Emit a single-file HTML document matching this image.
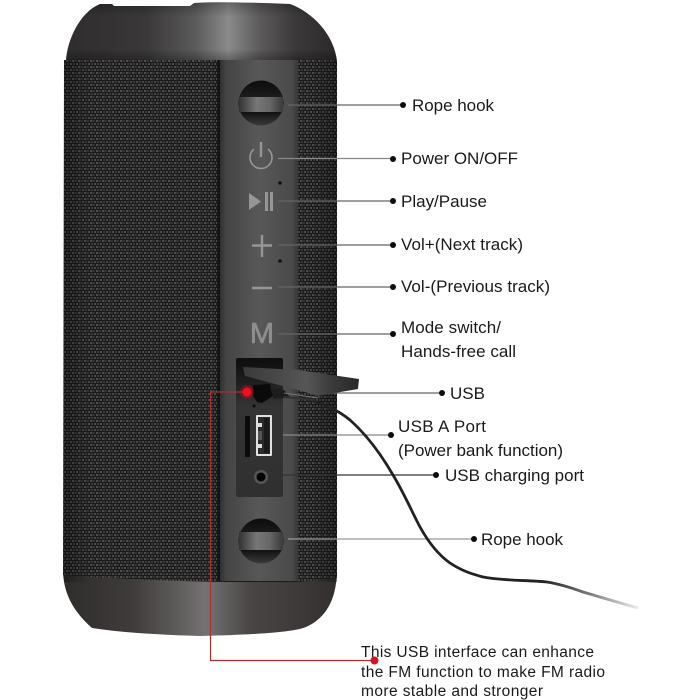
<!DOCTYPE html>
<html>
<head>
<meta charset="utf-8">
<style>
html,body{margin:0;padding:0;background:#fff;width:700px;height:700px;overflow:hidden}
svg{display:block}
text{font-family:"Liberation Sans",Arial,sans-serif;fill:#1a1a1a}
.l{font-size:17px}
.n{font-size:15.5px}
</style>
</head>
<body>
<svg width="700" height="700" viewBox="0 0 700 700" xmlns="http://www.w3.org/2000/svg">
<defs>
<pattern id="fab" width="6" height="6" patternUnits="userSpaceOnUse">
<rect width="6" height="6" fill="#1b1b1b"/>
<rect x="0" y="0" width="2.400" height="2" fill="#4c4c4c"/>
<rect x="3" y="0" width="2" height="2" fill="#343434"/>
<rect x="1" y="3" width="2" height="2" fill="#3a3a3a"/>
<rect x="4" y="3" width="2" height="2" fill="#484848"/>
</pattern>
<linearGradient id="fabShade" x1="0" x2="1" y1="0" y2="0">
<stop offset="0" stop-color="#000" stop-opacity=".3"/>
<stop offset=".1" stop-color="#000" stop-opacity="0"/>
<stop offset=".9" stop-color="#000" stop-opacity="0"/>
<stop offset="1" stop-color="#000" stop-opacity=".3"/>
</linearGradient>
<linearGradient id="capT" x1="0" x2="1" y1="0" y2="0">
<stop offset="0" stop-color="#2e2c2c"/>
<stop offset=".3" stop-color="#3a3838"/>
<stop offset=".48" stop-color="#5c5b5b"/>
<stop offset=".6" stop-color="#8a8a8a"/>
<stop offset=".72" stop-color="#5a5858"/>
<stop offset=".85" stop-color="#3a3838"/>
<stop offset="1" stop-color="#2b2929"/>
</linearGradient>
<linearGradient id="capTv" x1="0" x2="0" y1="0" y2="1">
<stop offset="0" stop-color="#000" stop-opacity=".25"/>
<stop offset=".25" stop-color="#000" stop-opacity="0"/>
<stop offset=".8" stop-color="#000" stop-opacity="0"/>
<stop offset="1" stop-color="#000" stop-opacity=".3"/>
</linearGradient>
<linearGradient id="capB" x1="0" x2="1" y1="0" y2="0">
<stop offset="0" stop-color="#2f2c2c"/>
<stop offset=".25" stop-color="#3f3b3b"/>
<stop offset=".42" stop-color="#5f5c5c"/>
<stop offset=".52" stop-color="#747272"/>
<stop offset=".68" stop-color="#4a4646"/>
<stop offset="1" stop-color="#332f2f"/>
</linearGradient>
<linearGradient id="panel" x1="0" x2="1" y1="0" y2="0">
<stop offset="0" stop-color="#303030"/>
<stop offset=".08" stop-color="#444"/>
<stop offset=".5" stop-color="#585858"/>
<stop offset=".92" stop-color="#4a4a4a"/>
<stop offset="1" stop-color="#383838"/>
</linearGradient>
<linearGradient id="band" x1="0" x2="1" y1="0" y2="0">
<stop offset="0" stop-color="#333"/>
<stop offset=".4" stop-color="#777"/>
<stop offset=".7" stop-color="#666"/>
<stop offset="1" stop-color="#3a3a3a"/>
</linearGradient>
<linearGradient id="ball" x1="0" x2="0" y1="0" y2="1">
<stop offset="0" stop-color="#0c0c0c"/>
<stop offset=".35" stop-color="#1c1c1c"/>
<stop offset=".7" stop-color="#111"/>
<stop offset="1" stop-color="#3a3a3a"/>
</linearGradient>
<linearGradient id="cableFade" gradientUnits="userSpaceOnUse" x1="350" y1="420" x2="640" y2="608">
<stop offset="0" stop-color="#222"/>
<stop offset=".72" stop-color="#222"/>
<stop offset=".85" stop-color="#777"/>
<stop offset="1" stop-color="#eee"/>
</linearGradient>
<linearGradient id="dong" x1="0" x2="1" y1="0" y2="0">
<stop offset="0" stop-color="#3a3a3a"/>
<stop offset=".55" stop-color="#565656"/>
<stop offset=".75" stop-color="#3c3c3c"/>
<stop offset="1" stop-color="#282828"/>
</linearGradient>
<linearGradient id="pocket" x1="0" x2="0" y1="0" y2="1">
<stop offset="0" stop-color="#0e0e0e"/>
<stop offset=".1" stop-color="#161616"/>
<stop offset=".35" stop-color="#343434"/>
<stop offset="1" stop-color="#303030"/>
</linearGradient>
</defs>

<!-- top cap -->
<path d="M66 61 C67 40 80 12 100 4 L112 4 L114 6 L190 6 L194 3 Q215 1 290 4 C312 12 334 34 337 61 Z" fill="url(#capT)"/>
<path d="M66 61 C67 40 80 12 100 4 L112 4 L114 6 L190 6 L194 3 Q215 1 290 4 C312 12 334 34 337 61 Z" fill="url(#capTv)"/>
<!-- bottom cap -->
<path d="M63 572 L337 572 C336 600 326 618 306 627 Q290 634 200 636 Q130 634 92 628 C74 612 64 595 63 572 Z" fill="url(#capB)"/>
<!-- fabric -->
<path d="M64 60 L337 60 L337 578 L298 582 L220 582 Q130 580 63 575 Z" fill="url(#fab)"/>
<rect x="64" y="60" width="273" height="522" fill="url(#fabShade)"/>
<!-- panel -->
<rect x="220" y="60" width="78" height="521" fill="url(#panel)"/>
<rect x="217" y="60" width="3" height="521" fill="#0c0c0c" opacity=".7"/>

<!-- leader lines -->
<g stroke-width="1.300" fill="none">
<path d="M288 105H403" stroke="#666"/>
<path d="M278 158.500H393" stroke="#888"/>
<path d="M278 201H393" stroke="#666"/>
<path d="M278 245H393" stroke="#666"/>
<path d="M278 287H393" stroke="#666"/>
<path d="M278 334H393" stroke="#666"/>
<path d="M320 393H442" stroke="#666"/>
<path d="M275 435H391" stroke="#888"/>
<path d="M268 475H436" stroke="#333"/>
<path d="M288 539H474" stroke="#999"/>
</g>

<!-- rope hooks -->
<g>
<circle cx="261" cy="103" r="22.500" fill="url(#ball)"/>
<path d="M239 97H283V112H239Z" fill="url(#band)"/>
<circle cx="261" cy="541" r="22.500" fill="url(#ball)"/>
<path d="M239 532H283V550H239Z" fill="url(#band)"/>
</g>

<!-- icons -->
<g fill="none" stroke="#969696">
<path d="M254 149 A11 11 0 1 0 268 149" stroke-width="1.600"/>
<path d="M261 142V157" stroke-width="2.400"/>
<path d="M252 245.500H272M262 235V257" stroke-width="2.400"/>
<path d="M252 288H272" stroke-width="2.600"/>
</g>
<path d="M249 193L261 201.500L249 210Z" fill="#969696"/>
<rect x="265" y="192" width="3" height="19" fill="#969696"/>
<rect x="270" y="192" width="3" height="19" fill="#969696"/>
<circle cx="280" cy="183" r="1.800" fill="#111"/>
<circle cx="280" cy="261" r="1.800" fill="#111"/>
<text x="262" y="343" text-anchor="middle" style="font-size:29px;fill:#8e8e8e;stroke:#8e8e8e;stroke-width:.6">M</text>

<!-- port panel -->
<rect x="236" y="358" width="47" height="139" rx="2" fill="url(#pocket)"/>
<rect x="245" y="416" width="5" height="41" fill="#0b0b0b"/>
<rect x="256" y="415" width="16" height="41" rx="1" fill="#e0e0e0"/>
<rect x="258" y="417" width="12" height="37" fill="#2a2a2a"/>
<rect x="264" y="418" width="5" height="35" fill="#1a1a1a"/>
<rect x="258" y="423" width="4" height="4" fill="#ddd"/>
<rect x="258" y="444" width="4" height="4" fill="#ddd"/>
<rect x="258" y="431" width="4" height="9" fill="#555"/>
<circle cx="261" cy="477" r="7" fill="#555"/>
<circle cx="261" cy="477" r="4.500" fill="#050505"/>
<circle cx="254" cy="406" r="1.500" fill="#0a0a0a"/>

<!-- cable -->
<path d="M300 397 C320 402 338 410 350 420 C368 436 382 456 393 475 C404 493 412 512 420 527 C430 545 440 556 450 563 C462 571 472 574 483 577 C505 581 527 580 547 582 C560 584 572 588 583 592 C600 597 620 603 638 608" fill="none" stroke="url(#cableFade)" stroke-width="2.800"/>

<!-- dongle -->
<path d="M243 367 L298 370 L359 379 L358 389 L317 396 L305 392 L245 376 Z" fill="url(#dong)"/>
<path d="M253 385 L270 384 L273 396 L262 403 L257 402 L253 396 Z" fill="#0a0a0a"/>
<path d="M270 387 L284 390 L290 397 L274 399 Z" fill="#1d1d1d"/>
<path d="M284 393 L318 398" stroke="#777" stroke-width="1" fill="none"/>
<path d="M284 397 L315 400" stroke="#333" stroke-width="2" fill="none"/>

<!-- red line -->
<path d="M247 392H210.500V660.500H374" fill="none" stroke="#a8332e" stroke-width="1.200"/>
<circle cx="247" cy="392" r="7" fill="#e8001c" opacity=".35"/>
<circle cx="247" cy="392" r="4.500" fill="#f0101f"/>
<circle cx="374.500" cy="660.500" r="4" fill="#d9101f"/>

<!-- dots -->
<g fill="#0d0d0d">
<circle cx="403" cy="105" r="3"/>
<circle cx="393" cy="159" r="3"/>
<circle cx="393" cy="201" r="3"/>
<circle cx="393" cy="245" r="3"/>
<circle cx="393" cy="287" r="3"/>
<circle cx="393" cy="334" r="3"/>
<circle cx="442" cy="393" r="3"/>
<circle cx="391" cy="435" r="3"/>
<circle cx="436" cy="475" r="3"/>
<circle cx="474" cy="539" r="3"/>
</g>

<!-- labels -->
<text class="l" x="412" y="111" textLength="82">Rope hook</text>
<text class="l" x="401" y="164" textLength="117">Power ON/OFF</text>
<text class="l" x="401" y="207" textLength="86">Play/Pause</text>
<text class="l" x="401" y="250" textLength="122">Vol+(Next track)</text>
<text class="l" x="401" y="292" textLength="149">Vol-(Previous track)</text>
<text class="l" x="401" y="333" textLength="100">Mode switch/</text>
<text class="l" x="401" y="357" textLength="115">Hands-free call</text>
<text class="l" x="450" y="399" textLength="35">USB</text>
<text class="l" x="398" y="432" textLength="88">USB A Port</text>
<text class="l" x="398" y="456" textLength="165">(Power bank function)</text>
<text class="l" x="445" y="481" textLength="139">USB charging port</text>
<text class="l" x="481" y="545" textLength="82">Rope hook</text>
<text class="n" x="361" y="657" textLength="233">This USB interface can enhance</text>
<text class="n" x="361" y="677" textLength="244">the FM function to make FM radio</text>
<text class="n" x="361" y="696" textLength="182">more stable and stronger</text>
</svg>
</body>
</html>
